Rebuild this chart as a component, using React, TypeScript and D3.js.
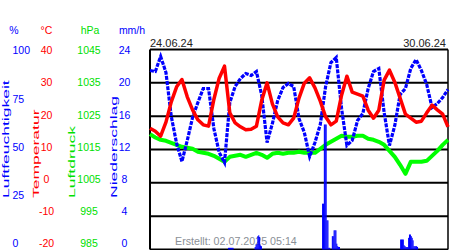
import React, { useEffect, useRef } from 'react';
import * as d3 from 'd3';

const startLabel = '24.06.24';
const endLabel = '30.06.24';
const createdLabel = 'Erstellt: 02.07.2025 05:14';
const spanHours = 168;

// readings every 3 hours from 24.06 00:00
const temperature = [16.4, 15.5, 14.0, 18.2, 24.3, 28.8, 31.0, 25.8, 21.9, 18.9,
  17.4, 17.0, 25.0, 31.4, 35.0, 21.0, 18.0, 16.8, 15.9, 16.1,
  17.0, 24.8, 30.0, 23.7, 19.8, 18.0, 17.4, 19.4, 25.4, 29.9,
  31.5, 28.5, 24.5, 19.8, 17.4, 18.5, 26.3, 32.0, 27.2, 26.6,
  26.0, 21.8, 19.4, 21.8, 30.8, 33.8, 30.2, 25.4, 20.6, 19.4,
  18.2, 18.5, 21.0, 23.3, 21.9, 20.6, 16.8];
const humidity = [89.5, 89, 96.5, 88.5, 66.5, 53, 44, 54.5, 66, 73.5,
  80.5, 80.5, 60.5, 48.5, 43.5, 73.5, 81.5, 85.5, 88, 87,
  89, 77, 53.5, 63, 74.5, 81, 83, 81.5, 65.5, 58.5,
  46.5, 53.5, 62.5, 81.5, 93.5, 96, 70.5, 52, 54.5, 64.5,
  68, 80.5, 89, 90.5, 68.5, 52, 62, 77.5, 80.5, 90.5,
  95, 89.5, 82.5, 71, 73, 76, 80];
const pressure = [1019.6, 1018.6, 1017.9, 1017.6, 1017.0, 1016.4, 1015.8, 1015.5, 1015.2, 1014.3,
  1014.0, 1013.7, 1013.1, 1012.2, 1011.3, 1012.8, 1013.1, 1013.4, 1012.8, 1013.4,
  1014.0, 1013.4, 1012.5, 1013.7, 1014.0, 1013.7, 1014.0, 1014.0, 1014.3, 1014.0,
  1014.0, 1014.0, 1015.2, 1016.4, 1017.3, 1018.2, 1019.1, 1018.8, 1018.8, 1019.1,
  1019.1, 1018.2, 1017.9, 1017.3, 1016.4, 1014.6, 1012.8, 1010.4, 1007.7, 1011.3,
  1011.3, 1011.3, 1011.6, 1013.1, 1014.6, 1016.4, 1017.9];

// precipitation in half hour bins (hour since start, mm/h)
const rainHours = [44, 44.5, 45, 45.5, 46, 46.5,
  59, 59.5, 60, 60.5, 61, 61.5, 62, 62.5,
  97, 97.5, 98, 98.5, 99, 99.5, 100, 100.5, 101,
  102.5, 103, 103.5, 104, 104.5, 105, 105.5, 106, 106.5,
  141, 141.5, 142, 142.5, 143, 143.5, 144, 144.5, 145, 145.5,
  146, 146.5, 147, 147.5, 148, 148.5, 149, 149.5, 150, 150.5];
const rainValues = [0.2, 0.2, 0.2, 0.2, 0.2, 0.2,
  0.3, 0.6, 0.6, 1.6, 1.7, 1.5, 0.5, 0.4,
  5.5, 5.5, 15, 15, 15, 3.5, 3.5, 0.2, 0.2,
  1.6, 1.6, 2.3, 2.3, 2.3, 0.7, 0.4, 0.3, 0.3,
  1.2, 1.2, 1.2, 1.2, 0.5, 0.4, 0.3, 0.3, 0.3, 1.4,
  1.8, 1.8, 1.6, 1.4, 1.1, 0.4, 0.4, 0.4, 0.4, 0.3];

const humidityTicks = [0, 25, 50, 75, 100];
const tempTicks = [-20, -10, 0, 10, 20, 30, 40];
const pressureTicks = [985, 995, 1005, 1015, 1025, 1035, 1045];
const rainTicks = [0, 4, 8, 12, 16, 20, 24];

const BLUE = '#0000ff';
const RED = '#ff0000';
const GREEN = '#00ff00';
const LABEL_GREEN = '#00e000';
const FONT = "'Liberation Sans', Arial, sans-serif";

const App = () => {
  const svgRef = useRef(null);

  useEffect(() => {
    const svg = d3.select(svgRef.current);
    svg.selectAll('*').remove();

    const left = 150, right = 448, top = 49.5, bottom = 249.5;
    const x = d3.scaleLinear().domain([0, spanHours]).range([left, right]);
    const yHum = d3.scaleLinear().domain([0, 100]).range([bottom, top]);
    const yTemp = d3.scaleLinear().domain([-20, 40]).range([bottom, top]);
    const yPres = d3.scaleLinear().domain([985, 1045]).range([bottom, top]);
    const yRain = d3.scaleLinear().domain([0, 24]).range([bottom, top]);

    // the tick labels sit on a slightly shorter span than the grid
    const labelRange = [243.5, 50.5];
    const lHum = d3.scaleLinear().domain([0, 100]).range(labelRange);
    const lTemp = d3.scaleLinear().domain([-20, 40]).range(labelRange);
    const lPres = d3.scaleLinear().domain([985, 1045]).range(labelRange);
    const lRain = d3.scaleLinear().domain([0, 24]).range(labelRange);

    svg.append('rect').attr('width', 450).attr('height', 250).attr('fill', '#fff');

    // units row
    const units = [
      { t: '%', x: 14, c: BLUE },
      { t: '°C', x: 46.5, c: RED },
      { t: 'hPa', x: 90, c: LABEL_GREEN },
      { t: 'mm/h', x: 132, c: BLUE },
    ];
    svg.selectAll('.unit').data(units).enter().append('text')
      .attr('x', d => d.x).attr('y', 34)
      .attr('text-anchor', 'middle')
      .attr('font-family', FONT).attr('font-size', 10.5)
      .attr('fill', d => d.c)
      .text(d => d.t);

    const tickCol = (ticks, scale, xPos, color, anchor) => {
      svg.append('g').selectAll('text').data(ticks).enter().append('text')
        .attr('x', xPos)
        .attr('y', d => scale(d) + 3.8)
        .attr('text-anchor', anchor)
        .attr('font-family', FONT).attr('font-size', 10.5)
        .attr('fill', color)
        .text(d => d);
    };
    tickCol(humidityTicks, lHum, 12.5, BLUE, 'start');
    tickCol(tempTicks, lTemp, 46.5, RED, 'middle');
    tickCol(pressureTicks, lPres, 89, LABEL_GREEN, 'middle');
    tickCol(rainTicks, lRain, 124.5, BLUE, 'middle');

    // rotated axis titles
    const titles = [
      { t: 'Luftfeuchtigkeit', x: 8.5, c: BLUE },
      { t: 'Temperatur', x: 38.5, c: RED },
      { t: 'Luftdruck', x: 75, c: LABEL_GREEN },
      { t: 'Niederschlag', x: 116.5, c: BLUE },
    ];
    svg.selectAll('.title').data(titles).enter().append('text')
      .attr('transform', d => `translate(${d.x},198) rotate(-90) scale(1,0.57)`)
      .attr('font-family', FONT).attr('font-size', 17.5)
      .attr('fill', d => d.c)
      .text(d => d.t);

    // dates
    svg.append('text').attr('x', left).attr('y', 46.5)
      .attr('font-family', FONT).attr('font-size', 11).attr('fill', '#222')
      .text(startLabel);
    svg.append('text').attr('x', 446).attr('y', 46.5).attr('text-anchor', 'end')
      .attr('font-family', FONT).attr('font-size', 11).attr('fill', '#222')
      .text(endLabel);

    // grid
    svg.append('g').selectAll('line').data(tempTicks).enter().append('line')
      .attr('x1', left).attr('x2', right)
      .attr('y1', d => yTemp(d)).attr('y2', d => yTemp(d))
      .attr('stroke', '#000').attr('stroke-width', 2);
    svg.append('line').attr('x1', left).attr('x2', left).attr('y1', top).attr('y2', bottom)
      .attr('stroke', '#000').attr('stroke-width', 2);
    svg.append('line').attr('x1', right).attr('x2', right).attr('y1', top).attr('y2', bottom)
      .attr('stroke', '#000').attr('stroke-width', 1.5);

    svg.append('text').attr('x', 175).attr('y', 245)
      .attr('font-family', FONT).attr('font-size', 10.7).attr('fill', '#8a8f96')
      .text(createdLabel);

    const hours = temperature.map((_, i) => i * 3);
    const lineOf = (vals, scale) => d3.line()
      .x((_, i) => x(hours[i]))
      .y(d => scale(d))(vals);

    svg.append('path').attr('d', lineOf(pressure, yPres))
      .attr('fill', 'none').attr('stroke', GREEN).attr('stroke-width', 4)
      .attr('stroke-linejoin', 'round');

    svg.append('g').selectAll('rect').data(rainValues).enter().append('rect')
      .attr('x', (_, i) => x(rainHours[i]))
      .attr('width', (_, i) => x(rainHours[i] + 0.5) - x(rainHours[i]) + 0.2)
      .attr('y', d => yRain(d))
      .attr('height', d => bottom - yRain(d))
      .attr('fill', BLUE);

    svg.append('path').attr('d', lineOf(humidity, yHum))
      .attr('fill', 'none').attr('stroke', BLUE).attr('stroke-width', 3.2)
      .attr('stroke-dasharray', '4 1.2');

    svg.append('path').attr('d', lineOf(temperature, yTemp))
      .attr('fill', 'none').attr('stroke', RED).attr('stroke-width', 3.5)
      .attr('stroke-linejoin', 'round');
  }, []);

  return (
    <div style={{ position: 'fixed', left: 0, top: 0, width: 450, height: 250 }}>
      <svg ref={svgRef} width={450} height={250} style={{ display: 'block' }}></svg>
    </div>
  );
};

export default App;
